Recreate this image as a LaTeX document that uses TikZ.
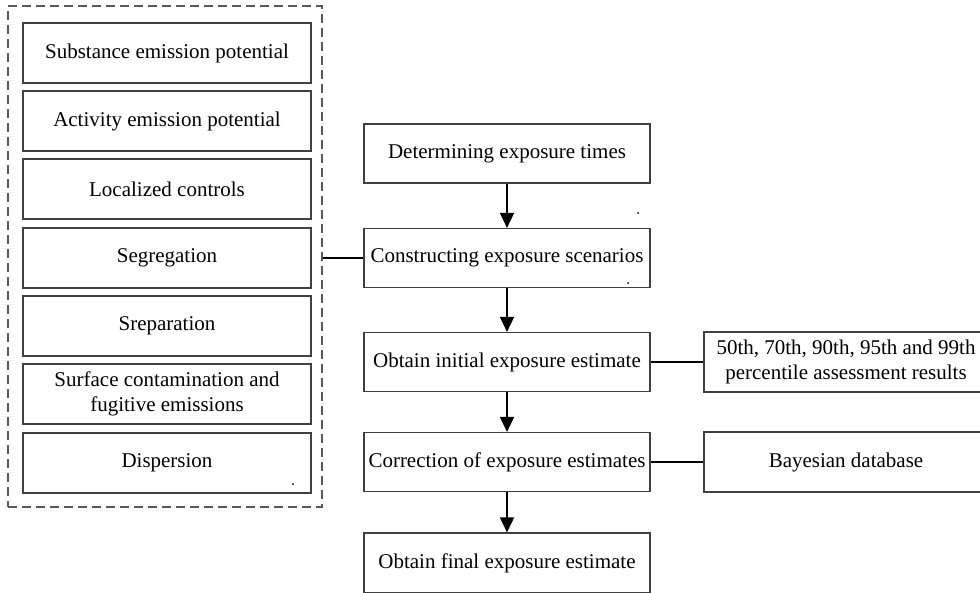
\documentclass[tikz,border=0pt]{standalone}
\usepackage{fontspec}
\setmainfont{Liberation Serif}
\usetikzlibrary{arrows.meta}
\begin{document}
\begin{tikzpicture}[x=1pt,y=-1pt,
 boxstyle/.style={draw=black!75, line width=1.2pt, inner sep=0pt, align=center, font=\fontsize{21}{25}\selectfont},
 leftbox/.style={boxstyle, minimum width=288pt, minimum height=60pt},
 midbox/.style={boxstyle, minimum width=286pt, minimum height=59pt},
 rightbox/.style={boxstyle, minimum width=284pt, minimum height=60pt},
 frame/.style={draw=black!65, dash pattern=on 9pt off 5pt, line width=1.3pt, inner sep=0pt, minimum width=314pt, minimum height=501pt},
 flow/.style={draw=black, line width=1.8pt, -{Triangle[length=15pt,width=14pt]}},
 link/.style={draw=black, line width=1.7pt},
 speck/.style={fill=black, circle, inner sep=0pt, minimum size=2pt}]
\useasboundingbox (0,0) rectangle (980,592);
% left group
\node[frame] (frame) at (165,256.5) {};
\node[leftbox] (l1) at (167,53) {Substance emission potential};
\node[leftbox] (l2) at (167,121) {Activity emission potential};
\node[leftbox] (l3) at (167,189) {Localized controls};
\node[leftbox] (l4) at (167,258) {Segregation};
\node[leftbox] (l5) at (167,326) {Sreparation};
\node[leftbox] (l6) at (167,394) {Surface contamination and\\fugitive emissions};
\node[leftbox] (l7) at (167,463) {Dispersion};
% middle column
\node[midbox] (m1) at (507,153.5) {Determining exposure times};
\node[midbox] (m2) at (507,258) {Constructing exposure scenarios};
\node[midbox] (m3) at (507,362) {Obtain initial exposure estimate};
\node[midbox] (m4) at (507,462) {Correction of exposure estimates};
\node[midbox, minimum height=60pt] (m5) at (507,563) {Obtain final exposure estimate};
% right column
\node[rightbox] (r1) at (846,362) {50th, 70th, 90th, 95th and 99th\\percentile assessment results};
\node[rightbox] (r2) at (846,462) {Bayesian database};
% connectors
\draw[flow] (m1.south) -- (m2.north);
\draw[flow] (m2.south) -- (m3.north);
\draw[flow] (m3.south) -- (m4.north);
\draw[flow] (m4.south) -- (m5.north);
\draw[link] (m2.west -| frame.east) -- (m2.west);
\draw[link] (m3.east) -- (m3.east -| r1.west);
\draw[link] (m4.east) -- (m4.east -| r2.west);
% specks
\node[speck] (s1) at (638,213) {};
\node[speck] (s2) at (628,283) {};
\node[speck] (s3) at (293,484) {};
\end{tikzpicture}
\end{document}
